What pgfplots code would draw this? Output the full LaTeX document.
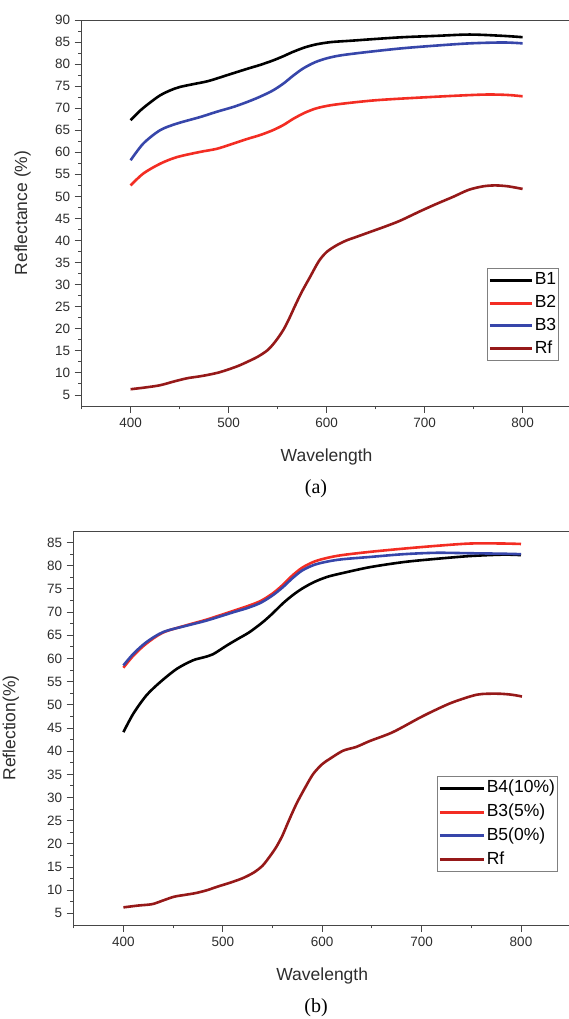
\documentclass[border=0pt]{standalone}
\usepackage{pgfplots}
\pgfplotsset{compat=1.18}
\usepackage{fontspec}
\setmainfont{Liberation Sans}
\newfontfamily\capfont{Liberation Serif}
\definecolor{cBlk}{RGB}{0,0,0}
\definecolor{cRed}{RGB}{243,45,35}
\definecolor{cBlue}{RGB}{55,70,170}
\definecolor{cRf}{RGB}{150,25,25}
\definecolor{axgray}{RGB}{70,70,70}
\definecolor{txtgray}{RGB}{45,45,45}

\pgfplotsset{
  myaxis/.style={
    scale only axis,
    axis lines*=left,
    axis line style={axgray, line width=0.9pt, -},
    xmin=350, xmax=850,
    ymin=2.5,
    xtick={400,500,...,800},
    minor xtick={350,450,...,850},
    minor y tick num=1,
    tick align=outside,
    xtick pos=bottom, ytick pos=left,
    major tick length=7pt, minor tick length=3.5pt,
    tick style={axgray, line width=0.9pt},
    tick label style={font=\fontsize{13.5}{14}\selectfont, text=txtgray},
    /pgf/number format/assume math mode=true,
    yticklabel style={xshift=-1pt},
    xticklabel style={yshift=-2pt},
    label style={font=\fontsize{17.5}{18}\selectfont, text=txtgray},
    xlabel style={at={(axis description cs:0.5,0)}, anchor=center, yshift=-51pt},
    legend cell align=left,
    every axis plot/.append style={line width=2.6pt, line join=round, smooth, tension=0.5},
  },
  mylegend/.style n args={3}{
    legend style={draw=black!50, line width=0.6pt, font=\fontsize{17.5}{18}\selectfont,
      anchor=north west, inner xsep=1pt, inner ysep=4pt, row sep=#2,
      nodes={inner xsep=1.5pt, inner ysep=0pt, text height=12.5pt, text depth=3.5pt}},
    legend image code/.code={\draw[##1, line width=3pt] (0pt,0pt) -- (#1,0pt);},
  },
}

\begin{document}
\begin{tikzpicture}
\useasboundingbox (0,0) rectangle (569pt,1019pt);

% ---------------- (a) ----------------
\begin{axis}[myaxis,
  at={(81.6pt,613pt)}, width=490pt, height=386pt,
  ymax=90, ytick={5,10,...,90},
  xlabel={Wavelength}, ylabel={Reflectance (\%)},
  ylabel style={at={(axis description cs:-0.1206,0.5)}, anchor=center},
  mylegend={42pt}{6.8pt}{},
  legend style={at={(axis description cs:0.8273,0.3575)}},
]
\draw[axgray, line width=0.9pt] (rel axis cs:0,1) -- (rel axis cs:1,1);
\addplot[cBlk] coordinates {
(400,67.3)(410,69.5)(420,71.3)(430,72.9)(440,74.0)(450,74.8)(465,75.5)(480,76.2)
(500,77.6)(520,79.0)(532,79.8)(545,80.8)(556,81.8)(566,82.8)(578,83.8)(590,84.5)
(605,85.0)(625,85.3)(650,85.7)(678,86.1)(712,86.4)(746,86.7)(780,86.4)(800,86.1)};
\addlegendentry{B1}
\addplot[cRed] coordinates {
(400,52.5)(413,55.2)(430,57.4)(447,58.9)(471,60.1)(488,60.8)(505,62.0)(520,63.1)
(532,63.9)(545,65.0)(556,66.2)(566,67.6)(578,69.0)(590,70.0)(605,70.7)(627,71.3)
(650,71.8)(678,72.2)(729,72.8)(763,73.1)(785,73.0)(800,72.7)};
\addlegendentry{B2}
\addplot[cBlue] coordinates {
(400,58.2)(413,62.0)(430,65.0)(447,66.5)(471,68.0)(488,69.2)(505,70.3)(520,71.5)
(532,72.6)(545,74.0)(556,75.6)(566,77.4)(576,79.0)(588,80.4)(600,81.3)(615,82.0)
(644,82.8)(678,83.6)(712,84.2)(746,84.7)(780,84.9)(800,84.7)};
\addlegendentry{B3}
\addplot[cRf] coordinates {
(400,6.3)(415,6.7)(430,7.2)(445,8.1)(458,8.8)(470,9.2)(480,9.6)(490,10.1)(500,10.8)
(510,11.6)(520,12.6)(530,13.7)(540,15.2)(548,17.2)(556,19.8)(562,22.4)(568,25.3)
(575,28.5)(583,31.7)(592,35.3)(600,37.4)(610,38.9)(620,40.0)(630,40.8)(645,42.0)
(660,43.2)(675,44.5)(695,46.6)(712,48.3)(729,49.9)(745,51.5)(760,52.3)(772,52.5)
(785,52.3)(800,51.7)};
\addlegendentry{Rf}
\end{axis}

% ---------------- (b) ----------------
\begin{axis}[myaxis,
  at={(73.7pt,94pt)}, width=497pt, height=394pt,
  ymax=87.5, ytick={5,10,...,85},
  xlabel={Wavelength}, ylabel={Reflection(\%)},
  ylabel style={at={(axis description cs:-0.1266,0.5)}, anchor=center},
  mylegend={44pt}{7.8pt}{},
  legend style={at={(axis description cs:0.731,0.378)}},
]
\draw[axgray, line width=0.9pt] (rel axis cs:0,1) -- (rel axis cs:1,1);
\addplot[cBlk] coordinates {
(400,44.1)(410,48.1)(423,52.0)(437,54.9)(454,57.8)(470,59.6)(480,60.2)(490,60.9)
(504,62.8)(515,64.2)(527,65.7)(540,67.8)(550,69.7)(560,71.8)(570,73.6)(580,75.1)
(592,76.5)(605,77.6)(620,78.4)(648,79.7)(682,80.8)(715,81.5)(749,82.1)(782,82.4)(800,82.3)};
\addlegendentry{B4(10\%)}
\addplot[cRed] coordinates {
(400,58.0)(410,60.6)(423,63.2)(440,65.6)(464,67.2)(484,68.4)(511,70.3)(525,71.3)
(538,72.4)(550,74.0)(560,75.8)(570,77.9)(580,79.6)(592,80.9)(605,81.7)(620,82.3)
(648,83.0)(682,83.7)(715,84.3)(749,84.8)(782,84.8)(800,84.7)};
\addlegendentry{B3(5\%)}
\addplot[cBlue] coordinates {
(400,58.5)(410,61.0)(423,63.5)(440,65.7)(464,67.1)(484,68.2)(511,70.0)(525,70.9)
(538,72.0)(550,73.6)(560,75.3)(570,77.3)(580,79.0)(592,80.2)(605,80.9)(620,81.4)
(648,81.9)(682,82.5)(715,82.8)(749,82.7)(782,82.6)(800,82.5)};
\addlegendentry{B5(0\%)}
\addplot[cRf] coordinates {
(400,6.3)(415,6.7)(429,7.0)(440,7.8)(451,8.6)(462,9.0)(473,9.4)(484,10.0)(495,10.8)
(507,11.6)(520,12.6)(531,13.8)(540,15.3)(548,17.5)(554,19.4)(560,21.8)(566,24.8)
(574,28.6)(583,32.2)(591,35.1)(600,37.2)(608,38.4)(621,40.1)(634,40.9)(648,42.2)
(671,44.1)(698,47.2)(715,49.0)(732,50.6)(756,52.2)(776,52.4)(790,52.2)(801,51.8)};
\addlegendentry{Rf}
\end{axis}

\node[font=\capfont\fontsize{20}{22}\selectfont, text=black] at (316pt,530pt) {(a)};
\node[font=\capfont\fontsize{20}{22}\selectfont, text=black] at (316pt,11pt) {(b)};
\end{tikzpicture}
\end{document}
